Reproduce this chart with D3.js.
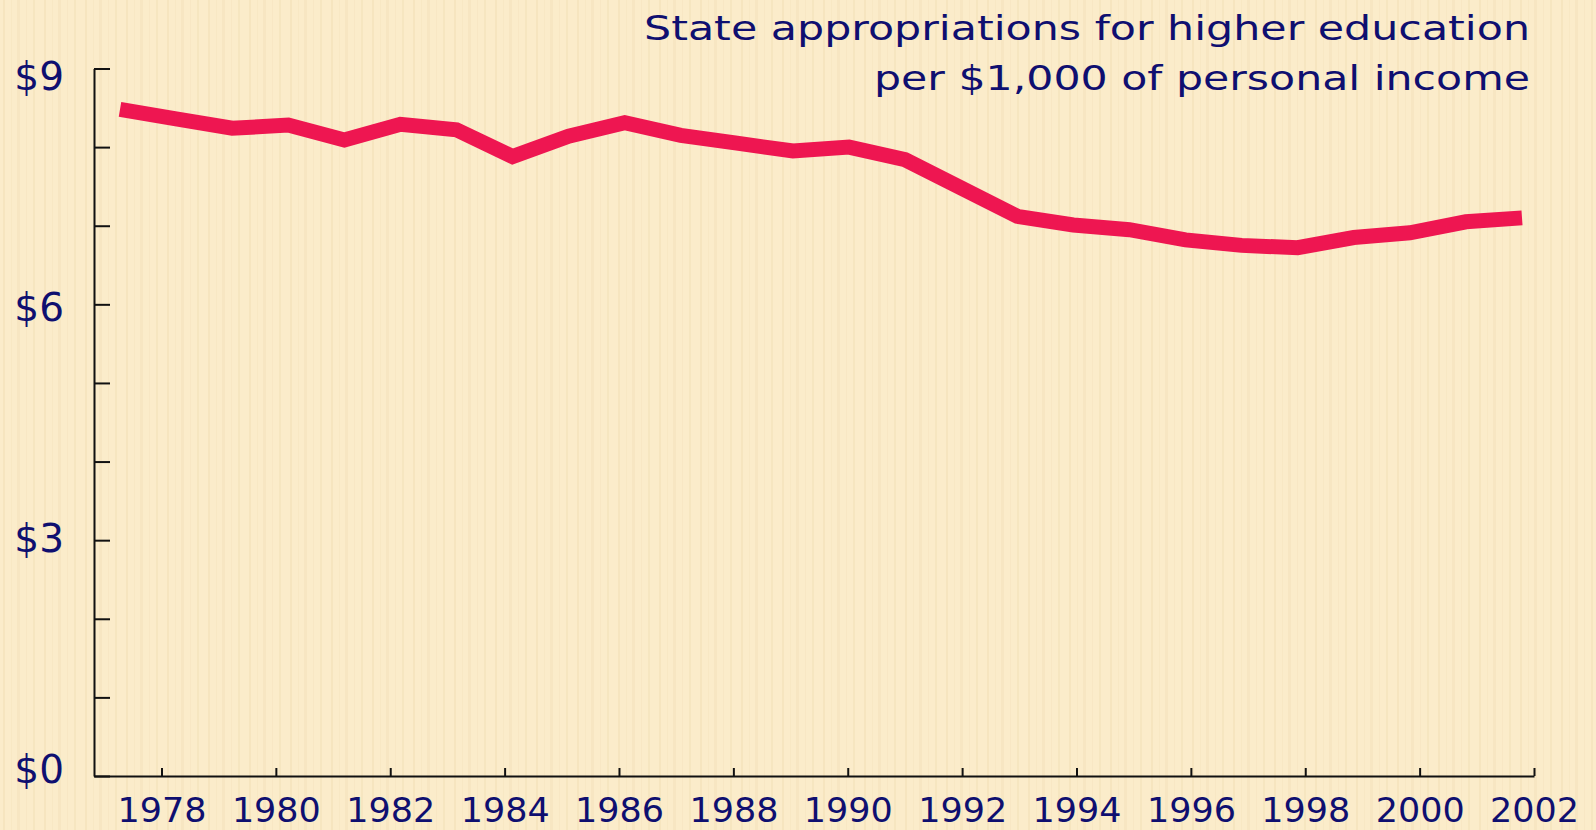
<!DOCTYPE html>
<html>
<head>
<meta charset="utf-8">
<script src="https://d3js.org/d3.v7.min.js"></script>
<style>
	html, body { margin: 0; padding: 0; background: #fbecca; overflow: hidden; }
	svg { display: block; }
</style>
</head>
<body>
<div id="chart"></div>
<script>
// state appropriations per $1,000 personal income
var years = [1977, 1978, 1979, 1980, 1981, 1982, 1983, 1984, 1985, 1986, 1987, 1988, 1989,
	1990, 1991, 1992, 1993, 1994, 1995, 1996, 1997, 1998, 1999, 2000, 2001, 2002];
var appropriations = [8.48, 8.36, 8.24, 8.28, 8.09, 8.29, 8.22, 7.88, 8.14, 8.31, 8.15, 8.05, 7.95,
	8.00, 7.84, 7.48, 7.12, 7.01, 6.95, 6.82, 6.75, 6.72, 6.85, 6.91, 7.05, 7.10];
var yearTicks = [1978, 1980, 1982, 1984, 1986, 1988, 1990, 1992, 1994, 1996, 1998, 2000, 2002];
var dollarTicks = [0, 1, 2, 3, 4, 5, 6, 7, 8, 9];
var dollarLabels = [0, 3, 6, 9];
var titleLines = ["State appropriations for higher education", "per $1,000 of personal income"];

var width = 1596;
var height = 830;
var navy = "#0f0f70";
var svg, xAxisScale, xPointScale, yScale, yLabelScale;

createSVG();
createBackground();
createScales();
createAxes();
createLine();
createTitle();

function createSVG() {
	svg = d3.select("#chart")
		.append("svg")
			.attr("width", width)
			.attr("height", height);
}

function createBackground() {
	// faint vertical paper streaks
	var pattern = svg.append("defs")
		.append("pattern")
			.attr("id", "paper")
			.attr("patternUnits", "userSpaceOnUse")
			.attr("width", 41)
			.attr("height", 830);
	pattern.append("rect")
		.attr("width", 41)
		.attr("height", 830)
		.attr("fill", "#fbecca");
	var streaks = [[3, 2, 0.35], [11, 1, 0.2], [17, 3, 0.28], [26, 1, 0.22], [33, 2, 0.3]];
	pattern.selectAll("rect.streak")
		.data(streaks)
		.enter()
			.append("rect")
			.attr("class", "streak")
			.attr("x", function(d) { return d[0]; })
			.attr("width", function(d) { return d[1]; })
			.attr("height", 830)
			.attr("fill", "#ecd7ab")
			.attr("opacity", function(d) { return d[2]; });
	svg.append("rect")
		.attr("width", width)
		.attr("height", height)
		.attr("fill", "url(#paper)");
}

function createScales() {
	xAxisScale = d3.scaleLinear()
		.domain([1976.82, 2002])
		.range([94, 1534]);
	xPointScale = d3.scalePoint()
		.domain(years)
		.range([120, 1522]);
	yScale = d3.scaleLinear()
		.domain([0, 9])
		.range([776, 68.5]);
	// the dollar labels sit on a slightly tighter spread than the ticks
	yLabelScale = d3.scaleLinear()
		.domain([0, 9])
		.range([783, 90]);
}

function createAxes() {
	var xAxis = d3.axisBottom(xAxisScale)
		.tickValues(yearTicks)
		.tickSizeInner(-8)
		.tickSizeOuter(0)
		.tickPadding(22.5)
		.tickFormat(d3.format("d"));

	var gx = svg.append("g")
		.attr("class", "x-axis")
		.attr("transform", "translate(0,776)")
		.call(xAxis);
	gx.selectAll("path, line")
		.attr("stroke", "#111")
		.attr("stroke-width", 2);
	gx.selectAll(".tick text")
		.attr("fill", navy)
		.attr("font-family", "DejaVu Sans, Verdana, sans-serif")
		.attr("font-size", "33px")
		.attr("textLength", 89)
		.attr("lengthAdjust", "spacingAndGlyphs");

	var yAxis = d3.axisRight(yScale)
		.tickValues(dollarTicks)
		.tickSizeInner(16)
		.tickSizeOuter(0)
		.tickFormat("");

	var gy = svg.append("g")
		.attr("class", "y-axis")
		.attr("transform", "translate(94,0)")
		.call(yAxis);
	gy.selectAll("path, line")
		.attr("stroke", "#111")
		.attr("stroke-width", 2);

	svg.append("g")
		.selectAll("text")
		.data(dollarLabels)
		.enter()
			.append("text")
			.attr("x", 64)
			.attr("y", function(d) { return yLabelScale(d); })
			.attr("text-anchor", "end")
			.attr("fill", navy)
			.attr("font-family", "DejaVu Sans, Verdana, sans-serif")
			.attr("font-size", "39px")
			.text(function(d) { return "$" + d; });
}

function createLine() {
	var line = d3.line()
		.x(function(d, i) { return xPointScale(years[i]); })
		.y(function(d) { return yScale(d); });

	svg.append("path")
		.datum(appropriations)
		.attr("d", line)
		.attr("fill", "none")
		.attr("stroke", "#ee1651")
		.attr("stroke-width", 15)
		.attr("stroke-linejoin", "miter")
		.attr("stroke-linecap", "butt");
}

function createTitle() {
	var spots = [{x: 644, y: 40, len: 886}, {x: 874, y: 90, len: 656}];
	svg.append("g")
		.selectAll("text")
		.data(titleLines)
		.enter()
			.append("text")
			.attr("x", function(d, i) { return spots[i].x; })
			.attr("y", function(d, i) { return spots[i].y; })
			.attr("textLength", function(d, i) { return spots[i].len; })
			.attr("lengthAdjust", "spacingAndGlyphs")
			.attr("fill", navy)
			.attr("font-family", "DejaVu Sans, Verdana, sans-serif")
			.attr("font-size", "34px")
			.text(function(d) { return d; });
}
</script>
</body>
</html>
